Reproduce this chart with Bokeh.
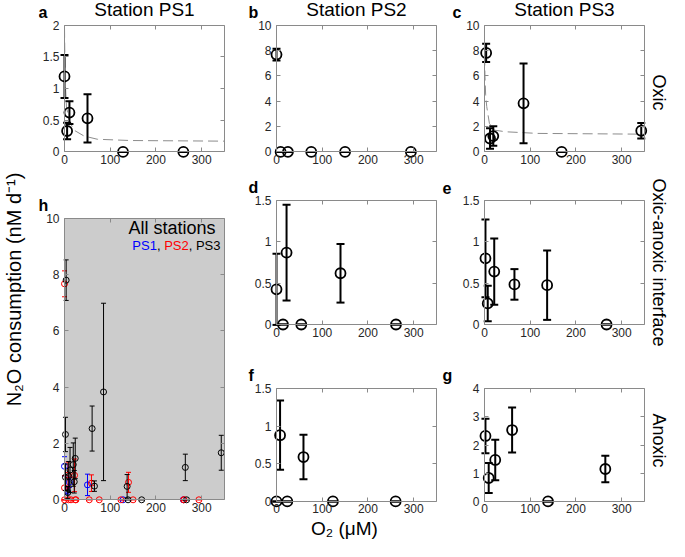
import numpy as np
from bokeh.plotting import figure
from bokeh.layouts import row, column
from bokeh.models import (Range1d, LinearAxis, FixedTicker, NumeralTickFormatter,
                          Label, BoxAnnotation)
from bokeh.embed import file_html
from bokeh.resources import INLINE

# ---------------- data: O2 (uM), N2O consumption (nM d-1), error ----------------
ps1_oxic_o2 = [0, 5.7, 10.8, 50.3, 128, 260]
ps1_oxic_rate = [1.19, 0.33, 0.62, 0.53, 0, 0]
ps1_oxic_err = [0.34, 0.13, 0.18, 0.38, 0, 0]

ps2_oxic_o2 = [0, 9, 25, 76, 150, 294]
ps2_oxic_rate = [7.67, 0, 0, 0, 0, 0]
ps2_oxic_err = [0.46, 0, 0, 0, 0, 0]

ps2_inter_o2 = [0, 14.2, 22, 54.2, 140, 261.4]
ps2_inter_rate = [0.425, 0, 0.87, 0, 0.62, 0]
ps2_inter_err = [0.43, 0, 0.58, 0, 0.355, 0]

ps2_anox_o2 = [0, 7.8, 23.6, 59, 123.4, 260.6]
ps2_anox_rate = [0, 0.88, 0, 0.59, 0, 0]
ps2_anox_err = [0, 0.46, 0, 0.295, 0, 0]

ps3_oxic_o2 = [3.6, 12.1, 19.2, 85.4, 168.8, 342.9]
ps3_oxic_rate = [7.8, 1.06, 1.25, 3.83, 0, 1.67]
ps3_oxic_err = [0.72, 0.8, 0.77, 3.15, 0, 0.62]

ps3_inter_o2 = [2.1, 7.1, 21.3, 65.5, 137, 267]
ps3_inter_rate = [0.80, 0.255, 0.64, 0.485, 0.476, 0]
ps3_inter_err = [0.47, 0.215, 0.40, 0.185, 0.42, 0]

ps3_anox_o2 = [2.1, 9.2, 23.5, 60.4, 139, 264.3]
ps3_anox_rate = [2.32, 0.83, 1.47, 2.53, 0, 1.15]
ps3_anox_err = [0.61, 0.53, 0.72, 0.80, 0, 0.47]

# dashed fitted curves
fit_ps1_o2 = [0, 1.4, 4.3, 10.8, 21.6, 43, 72, 144, 350]
fit_ps1_rate = [1.96, 1.14, 0.71, 0.48, 0.34, 0.25, 0.20, 0.18, 0.17]
fit_ps3_o2 = [0.3, 1, 2.5, 4.9, 10.7, 21.3, 46, 117, 350]
fit_ps3_rate = [7.6, 6.0, 4.5, 3.57, 2.25, 1.72, 1.59, 1.46, 1.40]

x_ticks = [0, 100, 200, 300]
station_titles = ["Station PS1", "Station PS2", "Station PS3"]
zone_labels = ["Oxic", "Oxic-anoxic interface", "Anoxic"]
legend_parts = ["PS1", "PS2", "PS3"]

# ---------------- style ----------------
FONT = "Liberation Sans"
TICK_TXT = "#262626"
FRAME = "#8a8a8a"
XMAX = 350
TOTAL_H = 541


def style_axis(ax, standoff, show_labels=True, ticks=None):
    ax.axis_line_color = FRAME
    ax.axis_line_width = 1
    ax.major_tick_line_color = FRAME
    ax.major_tick_line_width = 1
    ax.major_tick_in = 4
    ax.major_tick_out = 0
    ax.minor_tick_line_color = None
    ax.major_label_standoff = standoff
    ax.major_label_text_font = FONT
    ax.major_label_text_font_size = "12px"
    ax.major_label_text_color = TICK_TXT
    if not show_labels:
        ax.major_label_overrides = {float(t): "" for t in ticks}


def panel(fig_w, fig_h, box_left, box_top, box_w, box_h, ymax, yticks, grey=False):
    sx = XMAX / box_w
    sy = ymax / box_h
    bottom_px = fig_h - box_top - box_h
    p = figure(width=fig_w, height=fig_h, output_backend="svg", toolbar_location=None,
               x_range=Range1d(-box_left * sx, (fig_w - box_left) * sx),
               y_range=Range1d(-bottom_px * sy, (fig_h - box_top) * sy),
               x_axis_location=None, y_axis_location=None,
               min_border_left=0, min_border_right=0, min_border_top=0,
               min_border_bottom=0)
    p.grid.visible = False
    p.outline_line_color = None
    p.background_fill_color = "white"
    p.border_fill_color = "white"
    if grey:
        p.add_layout(BoxAnnotation(left=0, right=XMAX, bottom=0, top=ymax,
                                   fill_color="#cccccc", fill_alpha=1,
                                   line_color=None, level="underlay"))
    xb = LinearAxis(ticker=FixedTicker(ticks=x_ticks), fixed_location=0,
                    bounds=(0, XMAX), formatter=NumeralTickFormatter(format="0.[0]"))
    style_axis(xb, 3)
    p.add_layout(xb, "below")
    yl = LinearAxis(ticker=FixedTicker(ticks=yticks), fixed_location=0,
                    bounds=(0, ymax), formatter=NumeralTickFormatter(format="0.[0]"))
    style_axis(yl, 5)
    p.add_layout(yl, "left")
    xt = LinearAxis(ticker=FixedTicker(ticks=x_ticks), fixed_location=ymax,
                    bounds=(0, XMAX))
    style_axis(xt, 0, show_labels=False, ticks=x_ticks)
    p.add_layout(xt, "above")
    yr = LinearAxis(ticker=FixedTicker(ticks=yticks), fixed_location=XMAX,
                    bounds=(0, ymax))
    style_axis(yr, 0, show_labels=False, ticks=yticks)
    p.add_layout(yr, "right")
    return p


def errpoints(p, x, y, e, color="black", lw=2, cap=8, size=10, mlw=1.8):
    x = np.asarray(x, float)
    y = np.asarray(y, float)
    e = np.asarray(e, float)
    p.segment(x0=x, y0=y - e, x1=x, y1=y + e, line_color=color, line_width=lw)
    p.scatter(x=np.concatenate([x, x]), y=np.concatenate([y - e, y + e]),
              marker="dash", size=cap, line_color=color, line_width=lw)
    p.scatter(x=x, y=y, marker="circle", size=size, fill_color=None,
              line_color=color, line_width=mlw)


def txt(p, x, y, text, size, dx=0, dy=0, align="left", color="black",
        style="normal", angle=0.0):
    p.add_layout(Label(x=x, y=y, x_offset=dx, y_offset=dy, text=text, angle=angle,
                       text_font=FONT, text_font_size=size, text_font_style=style,
                       text_color=color, text_align=align, text_baseline="middle"))


def letter(p, ymax, text, dx):
    txt(p, 0, ymax, text, "16px", dx=dx, dy=13, style="bold")


def title(p, ymax, text):
    txt(p, XMAX / 2, ymax, text, "19px", dy=16, align="center")


def blank(w, h):
    p = figure(width=w, height=h, output_backend="svg", toolbar_location=None,
               x_range=Range1d(0, w), y_range=Range1d(0, h),
               x_axis_location=None, y_axis_location=None,
               min_border_left=0, min_border_right=0, min_border_top=0,
               min_border_bottom=0)
    p.grid.visible = False
    p.outline_line_color = None
    p.background_fill_color = "white"
    p.border_fill_color = "white"
    return p


BW, BH = 160, 124
# rows: top figs 0..176, middle 176..348, bottom 348..541
# ---------- column 1 (x 38..246, box 64..224) ----------
fa = panel(208, 176, 26, 28, BW, BH, 2, [0, 0.5, 1, 1.5, 2])
fa.line(fit_ps1_o2, fit_ps1_rate, line_color="#8c8c8c", line_width=1, line_dash="10 5")
errpoints(fa, ps1_oxic_o2, ps1_oxic_rate, ps1_oxic_err)
letter(fa, 2, "a", -26)
title(fa, 2, station_titles[0])

fh = panel(208, 365, 26, 24, BW, 297, 10, [0, 2, 4, 6, 8, 10], grey=True)
small = dict(lw=1, cap=5, size=6, mlw=1)
errpoints(fh, ps1_oxic_o2, ps1_oxic_rate, ps1_oxic_err, color="#0000ff", **small)
errpoints(fh, ps2_oxic_o2 + ps2_inter_o2 + ps2_anox_o2,
          ps2_oxic_rate + ps2_inter_rate + ps2_anox_rate,
          ps2_oxic_err + ps2_inter_err + ps2_anox_err, color="#ff0000", **small)
errpoints(fh, ps3_oxic_o2 + ps3_inter_o2 + ps3_anox_o2,
          ps3_oxic_rate + ps3_inter_rate + ps3_anox_rate,
          ps3_oxic_err + ps3_inter_err + ps3_anox_err, color="black", **small)
letter(fh, 10, "h", -26)
txt(fh, XMAX, 10, "All stations", "18px", dx=-9, dy=-9.5, align="right")
w_ps = (0.667 + 0.667 + 0.556) * 13
w_sep = 0.556 * 13
start = -4 - (3 * w_ps + 2 * w_sep)
ps_colors = ["#0000ff", "#ff0000", "black"]
for i, (t, col) in enumerate(zip(legend_parts, ps_colors)):
    off = start + i * (w_ps + w_sep)
    txt(fh, XMAX, 10, t, "13px", dx=off, dy=-27, color=col)
    if i < 2:
        txt(fh, XMAX, 10, ",", "13px", dx=off + w_ps, dy=-27)

# ---------- column 2 (x 246..440, box 276..436) ----------
fb = panel(194, 176, 30, 28, BW, BH, 10, [0, 2, 4, 6, 8, 10])
errpoints(fb, ps2_oxic_o2, ps2_oxic_rate, ps2_oxic_err)
letter(fb, 10, "b", -28)
title(fb, 10, station_titles[1])

fd = panel(194, 172, 30, 24, BW, BH, 1.5, [0, 0.5, 1, 1.5])
errpoints(fd, ps2_inter_o2, ps2_inter_rate, ps2_inter_err)
letter(fd, 1.5, "d", -28)

ff = panel(194, 193, 30, 25, BW, BH, 1.5, [0, 0.5, 1, 1.5])
errpoints(ff, ps2_anox_o2, ps2_anox_rate, ps2_anox_err)
letter(ff, 1.5, "f", -28)
txt(ff, 0, 0, "O\u2082 (\u03bcM)", "19px", dx=68, dy=-27, align="center")

# ---------- column 3 (x 440..648, box 484..644) ----------
fc = panel(208, 176, 44, 28, BW, BH, 10, [0, 2, 4, 6, 8, 10])
fc.line(fit_ps3_o2, fit_ps3_rate, line_color="#8c8c8c", line_width=1, line_dash="10 5")
errpoints(fc, ps3_oxic_o2, ps3_oxic_rate, ps3_oxic_err)
letter(fc, 10, "c", -32)
title(fc, 10, station_titles[2])

fe = panel(208, 172, 44, 24, BW, BH, 1.5, [0, 0.5, 1, 1.5])
errpoints(fe, ps3_inter_o2, ps3_inter_rate, ps3_inter_err)
letter(fe, 1.5, "e", -42)

fg = panel(208, 193, 44, 25, BW, BH, 4, [0, 1, 2, 3, 4])
errpoints(fg, ps3_anox_o2, ps3_anox_rate, ps3_anox_err)
letter(fg, 4, "g", -42)

# ---------- side label strips ----------
left = blank(38, TOTAL_H)
txt(left, 13.5, TOTAL_H - 289, "N\u2082O consumption (nM d\u207b\u00b9)", "20px",
    align="center", angle=np.pi / 2)
right = blank(21, TOTAL_H)
for t, yc in zip(zone_labels, [92, 262, 440]):
    txt(right, 10, TOTAL_H - yc, t, "18px", align="center", angle=-np.pi / 2)

layout = row(left, column(fa, fh), column(fb, fd, ff), column(fc, fe, fg), right)

open("out.html", "w").write(file_html(layout, INLINE))
